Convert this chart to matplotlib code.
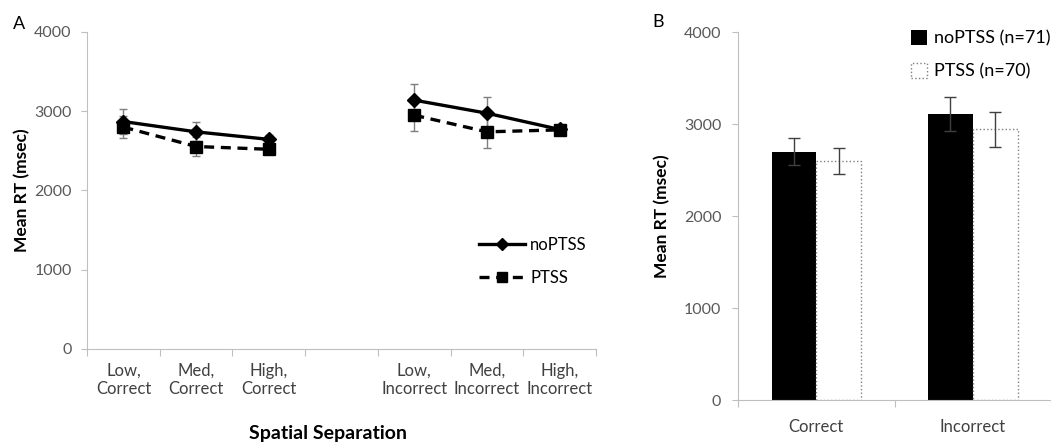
import numpy as np
import matplotlib.pyplot as plt

plt.rcParams['font.family'] = ['Lato', 'DejaVu Sans']

# Panel A data
conditions = ["Low,\nCorrect", "Med,\nCorrect", "High,\nCorrect",
              "Low,\nIncorrect", "Med,\nIncorrect", "High,\nIncorrect"]
noptss_a = [2870, 2740, 2645, 3140, 2975, 2770]
noptss_a_err = [155, 120, 60, 200, 200, 50]
ptss_a = [2800, 2555, 2520, 2950, 2740, 2765]
ptss_a_err = [135, 125, 60, 195, 200, 50]

# Panel B data
outcomes = ["Correct", "Incorrect"]
noptss_b = [2700, 3105]
noptss_b_err = [145, 185]
ptss_b = [2600, 2945]
ptss_b_err = [140, 190]

grey_txt = '#595959'
spine_c = '#bfbfbf'

fig = plt.figure(figsize=(10.51, 4.48), dpi=100)

# ---- Panel A
ax = fig.add_axes([0.0828, 0.221, 0.4843, 0.7076])
xa = np.r_[0:3, 4:7]  # leave an empty slot between correct and incorrect
handles = []
for i, grp in enumerate([slice(0, 3), slice(3, 6)]):
    e1 = ax.errorbar(xa[grp], noptss_a[grp], yerr=noptss_a_err[grp], color='black',
                     lw=2.4, marker='D', ms=7, ecolor='#7f7f7f', elinewidth=1,
                     capsize=3, zorder=3)
    e2 = ax.errorbar(xa[grp], ptss_a[grp], yerr=ptss_a_err[grp], color='black',
                     lw=2.4, ls=(0, (3, 2)), marker='s', ms=8, ecolor='#7f7f7f',
                     elinewidth=1, capsize=3, zorder=3)
    if i == 0:
        handles = [e1[0], e2[0]]
ax.set_xlim(-0.5, 6.5)
ax.set_ylim(0, 4000)
ax.set_yticks([0, 1000, 2000, 3000, 4000])
ax.set_xticks(np.arange(-0.5, 7, 1))
ax.set_xticklabels([])
ax.set_xticks(xa, minor=True)
ax.set_xticklabels(conditions, minor=True)
ax.tick_params(axis='x', which='major', length=5, color=spine_c, direction='out')
ax.tick_params(axis='x', which='minor', length=0, pad=10, labelsize=12, labelcolor='#404040')
ax.tick_params(axis='y', length=4, color=spine_c, labelsize=11.5, labelcolor=grey_txt, pad=7)
for s in ['top', 'right']:
    ax.spines[s].set_visible(False)
for s in ['left', 'bottom']:
    ax.spines[s].set_color(spine_c)
ax.set_ylabel('Mean RT (msec)', fontsize=12.5, fontweight='bold', labelpad=3)
ax.legend(handles, ['noPTSS', 'PTSS'], loc='upper left',
          bbox_to_anchor=(0.74, 0.40), frameon=False, fontsize=12,
          handlelength=2.8, labelspacing=1.0, handletextpad=0.3, markerscale=0.9)
fig.text(0.312, 0.02, 'Spatial Separation', ha='center', fontsize=14, fontweight='bold')
fig.text(0.012, 0.935, 'A', fontsize=13)

# ---- Panel B
bx = fig.add_axes([0.7022, 0.1071, 0.2978, 0.8214])
xb = np.arange(len(outcomes))
w = 0.286
bx.bar(xb - w / 2, noptss_b, w, yerr=noptss_b_err, color='black',
       error_kw=dict(ecolor='#404040', elinewidth=1, capsize=4),
       label='noPTSS (n=71)')
bx.bar(xb + w / 2, ptss_b, w, yerr=ptss_b_err, color='white',
       edgecolor='#7f7f7f', linestyle=':', linewidth=1,
       error_kw=dict(ecolor='#404040', elinewidth=1, capsize=4, linestyle='-'),
       label='PTSS (n=70)')
bx.set_xlim(-0.5, 1.444)
bx.set_ylim(0, 4000)
bx.set_yticks([0, 1000, 2000, 3000, 4000])
bx.set_xticks([-0.5, 0.5, 1.5])
bx.set_xticklabels([])
bx.set_xticks(xb, minor=True)
bx.set_xticklabels(outcomes, minor=True)
bx.tick_params(axis='x', which='major', length=5, color=spine_c, direction='out')
bx.tick_params(axis='x', which='minor', length=0, pad=14, labelsize=12, labelcolor='#404040')
bx.tick_params(axis='y', length=4, color=spine_c, labelsize=11.5, labelcolor=grey_txt, pad=8)
for s in ['top', 'right']:
    bx.spines[s].set_visible(False)
for s in ['left', 'bottom']:
    bx.spines[s].set_color(spine_c)
bx.set_ylabel('Mean RT (msec)', fontsize=12.5, fontweight='bold', labelpad=10)
bx.legend(loc='upper left', bbox_to_anchor=(0.50, 1.05), frameon=False,
          fontsize=13, handlelength=0.9, handleheight=0.9,
          labelspacing=0.9, handletextpad=0.4)
fig.text(0.621, 0.94, 'B', fontsize=13)

fig.savefig('out.png', dpi=100)
